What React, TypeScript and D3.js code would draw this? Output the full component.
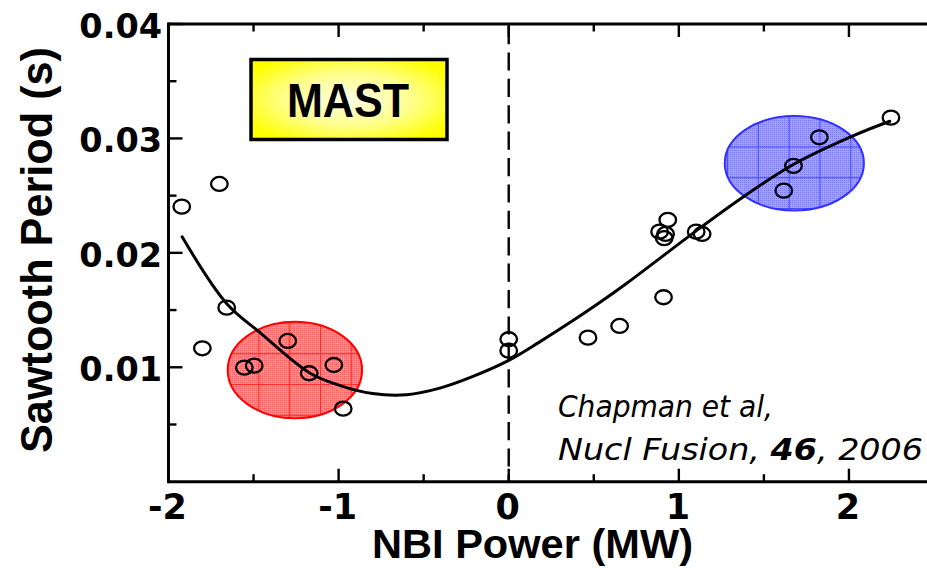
import React from 'react';
import * as d3 from 'd3';

// Measured sawtooth periods vs neutral-beam power
const scatterPower = [
  -1.922, -1.701, -1.658, -1.801, -1.554, -1.496, -1.299, -1.173, -1.028, -0.973,
  0.0, 0.0,
  0.466, 0.652, 0.91, 0.887, 0.922, 0.914, 0.935, 1.102, 1.137, 1.617, 1.674, 1.826, 2.247,
];
const scatterPeriod = [
  0.02404, 0.02602, 0.01521, 0.01166, 0.00997, 0.01014, 0.0123, 0.00948, 0.0102, 0.00638,
  0.01245, 0.01145,
  0.01259, 0.01361, 0.01612, 0.02185, 0.02165, 0.02128, 0.02288, 0.02185, 0.02165, 0.02544, 0.0276, 0.0301, 0.03182,
];

// Trend curve through the data
const fitPower = [-1.92, -1.66, -1.46, -1.17, -0.99, -0.8, -0.6, -0.4, -0.21, 0.0, 0.18, 0.38, 0.52, 0.69, 1.1, 1.38, 1.67, 2.02, 2.24];
const fitPeriod = [0.0214, 0.0156, 0.013, 0.0095, 0.0084, 0.0077, 0.0076, 0.0082, 0.0092, 0.0106, 0.0122, 0.0141, 0.0155, 0.0173, 0.0219, 0.0249, 0.0277, 0.0302, 0.0315];

// Highlighted regimes (counter / co injection)
const regionNames = ['counter', 'co'];
const regionPower = [-1.257, 1.679];
const regionPeriod = [0.00976, 0.02783];
const regionHalfWidth = [0.395, 0.409];
const regionHalfHeight = [0.00422, 0.00413];

const xMajorTicks = [-2, -1, 0, 1, 2];
const xTickLabels = ['-2', '-1', '0', '1', '2'];
const xMinorTicks = [-1.5, -0.5, 0.5, 1.5];
const yMajorTicks = [0.01, 0.02, 0.03, 0.04];
const yTickLabels = ['0.01', '0.02', '0.03', '0.04'];
const yMinorTicks = [0.005, 0.015, 0.025, 0.035];

const W = 927;
const H = 568;

export default function App() {
  const x = d3.scaleLinear().domain([-2, 2.5]).range([168.5, 934]);
  const y = d3.scaleLinear().domain([0, 0.04]).range([481.7, 24]);
  const left = x(-2);
  const right = x(2.5);
  const top = y(0.04);
  const bottom = y(0);

  const fitLine = d3
    .line<number>()
    .x((_, i) => x(fitPower[i]))
    .y((_, i) => y(fitPeriod[i]))
    .curve(d3.curveCatmullRom.alpha(0.5));

  const regionStyle = [
    { base: '#ff8c8c', dot: '#ff5a5a', grid: '#ff2a2a', edge: '#ff0000' },
    { base: '#a2a2ff', dot: '#7474ff', grid: '#4646ff', edge: '#3030ff' },
  ];

  const labelFont = "'Liberation Sans', Arial, sans-serif";
  const tickFont = "'DejaVu Sans', sans-serif";

  return (
    <svg
      width={W}
      height={H}
      viewBox={`0 0 ${W} ${H}`}
      style={{ position: 'absolute', left: 0, top: 0, background: '#fff' }}
    >
      <defs>
        <radialGradient id="mastFill" cx="50%" cy="50%" r="60%">
          <stop offset="0%" stopColor="#ffffe6" />
          <stop offset="55%" stopColor="#ffff8a" />
          <stop offset="100%" stopColor="#ffff00" />
        </radialGradient>
        {regionNames.map((name, i) => {
          const cx = x(regionPower[i]);
          const cy = y(regionPeriod[i]);
          const s = regionStyle[i];
          return (
            <React.Fragment key={name}>
              <pattern id={`dither-${name}`} patternUnits="userSpaceOnUse" width={2} height={2}>
                <rect width={2} height={2} fill={s.base} />
                <rect width={1} height={1} fill={s.dot} />
              </pattern>
              <pattern
                id={`grid-${name}`}
                patternUnits="userSpaceOnUse"
                x={cx - 36.5}
                y={cy - 16.8}
                width={30.8}
                height={30.8}
              >
                <line x1={0.5} y1={0} x2={0.5} y2={30.8} stroke={s.grid} strokeWidth={1} />
                <line x1={0} y1={0.5} x2={30.8} y2={0.5} stroke={s.grid} strokeWidth={1} />
              </pattern>
            </React.Fragment>
          );
        })}
      </defs>

      {/* shaded regimes */}
      {regionNames.map((name, i) => {
        const cx = x(regionPower[i]);
        const cy = y(regionPeriod[i]);
        const rx = x(regionPower[i] + regionHalfWidth[i]) - cx;
        const ry = cy - y(regionPeriod[i] + regionHalfHeight[i]);
        return (
          <g key={name}>
            <ellipse cx={cx} cy={cy} rx={rx} ry={ry} fill={`url(#dither-${name})`} />
            <ellipse cx={cx} cy={cy} rx={rx} ry={ry} fill={`url(#grid-${name})`} />
            <ellipse cx={cx} cy={cy} rx={rx} ry={ry} fill="none" stroke={regionStyle[i].edge} strokeWidth={2} />
          </g>
        );
      })}

      {/* zero-power marker */}
      <line
        x1={x(0)}
        x2={x(0)}
        y1={top + 2}
        y2={bottom}
        stroke="#000"
        strokeWidth={2.4}
        strokeDasharray="18.2 8.2"
      />

      {/* trend */}
      <path d={fitLine(fitPower) ?? ''} fill="none" stroke="#000" strokeWidth={3} strokeLinecap="round" />

      {/* measurements */}
      {scatterPower.map((p, i) => (
        <ellipse
          key={i}
          cx={x(p)}
          cy={y(scatterPeriod[i])}
          rx={8.3}
          ry={7}
          fill="none"
          stroke="#000"
          strokeWidth={2.3}
        />
      ))}

      {/* frame */}
      <g stroke="#000" strokeWidth={3} fill="none">
        <line x1={left} x2={right} y1={top} y2={top} />
        <line x1={left} x2={right} y1={bottom} y2={bottom} />
        <line x1={left} x2={left} y1={top - 1.5} y2={bottom + 1.5} />
      </g>

      {/* ticks */}
      <g stroke="#000" strokeWidth={2.4}>
        {xMajorTicks.map((t) => (
          <React.Fragment key={`xm${t}`}>
            <line x1={x(t)} x2={x(t)} y1={bottom} y2={bottom - 13} />
            <line x1={x(t)} x2={x(t)} y1={top} y2={top + 13} />
          </React.Fragment>
        ))}
        {xMinorTicks.map((t) => (
          <React.Fragment key={`xn${t}`}>
            <line x1={x(t)} x2={x(t)} y1={bottom} y2={bottom - 7.5} />
            <line x1={x(t)} x2={x(t)} y1={top} y2={top + 7.5} />
          </React.Fragment>
        ))}
        {yMajorTicks.map((t) => (
          <line key={`ym${t}`} x1={left} x2={left + 14} y1={y(t)} y2={y(t)} />
        ))}
        {yMinorTicks.map((t) => (
          <line key={`yn${t}`} x1={left} x2={left + 8} y1={y(t)} y2={y(t)} />
        ))}
      </g>

      {/* tick labels */}
      <g fontFamily={tickFont} fontWeight="bold" fill="#000">
        {xMajorTicks.map((t, i) => (
          <text key={`xl${t}`} x={x(t) - 1} y={519} fontSize={35} textAnchor="middle">
            {xTickLabels[i]}
          </text>
        ))}
        {yMajorTicks.map((t, i) => (
          <text key={`yl${t}`} x={162} y={y(t) + 14} fontSize={33.5} textAnchor="end">
            {yTickLabels[i]}
          </text>
        ))}
      </g>

      {/* axis titles */}
      <text
        x={372}
        y={558}
        fontFamily={labelFont}
        fontWeight="bold"
        fontSize={40}
        textLength={321}
        lengthAdjust="spacingAndGlyphs"
      >
        NBI Power (MW)
      </text>
      <text
        transform="translate(52,453) rotate(-90)"
        fontFamily={labelFont}
        fontWeight="bold"
        fontSize={44}
        textLength={406}
        lengthAdjust="spacingAndGlyphs"
      >
        Sawtooth Period (s)
      </text>

      {/* device tag */}
      <rect x={251} y={59.5} width={196} height={80} fill="url(#mastFill)" stroke="#000" strokeWidth={3.5} />
      <text
        x={287}
        y={117}
        fontFamily={labelFont}
        fontWeight="bold"
        fontSize={48}
        textLength={122}
        lengthAdjust="spacingAndGlyphs"
      >
        MAST
      </text>

      {/* reference */}
      <g fontFamily={tickFont} fontStyle="italic" fontSize={30} fill="#000">
        <text x={558} y={417} textLength={215} lengthAdjust="spacingAndGlyphs">
          Chapman et al,
        </text>
        <text x={558} y={460} textLength={365} lengthAdjust="spacingAndGlyphs">
          Nucl Fusion, <tspan fontWeight="bold">46</tspan>, 2006
        </text>
      </g>
    </svg>
  );
}
